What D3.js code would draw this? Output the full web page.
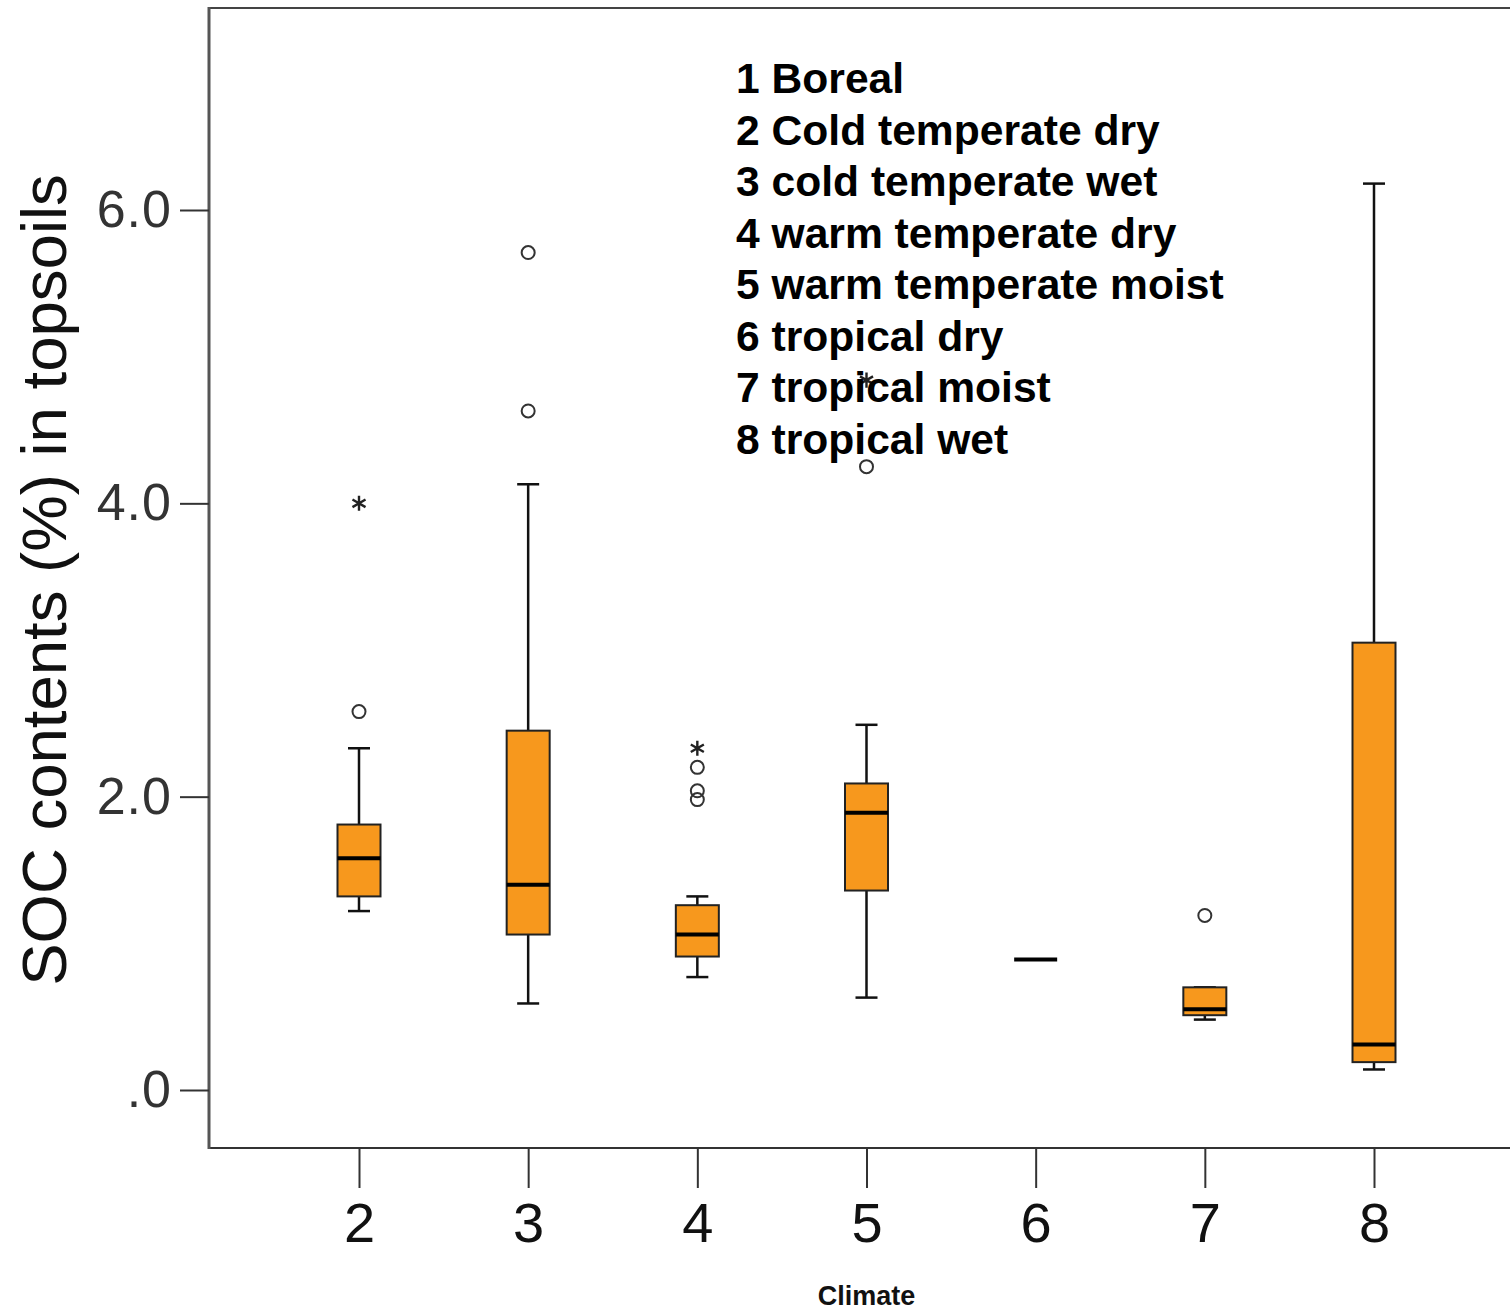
<!DOCTYPE html>
<html>
<head>
<meta charset="utf-8">
<script src="https://cdn.jsdelivr.net/npm/d3@7"></script>
<style>
  body { margin: 0; background: #fff; }
  svg { display: block; font-family: Arial, "Liberation Sans", sans-serif; }
</style>
</head>
<body>
<div id="chart"></div>
<script>
// climate classes on the x axis
const categories = ["2", "3", "4", "5", "6", "7", "8"];

// box plot statistics, one value per category
const lowWhisker  = [1.22, 0.59, 0.77, 0.63, 0.89, 0.48, 0.14];
const q1          = [1.32, 1.06, 0.91, 1.36, 0.89, 0.51, 0.19];
const median      = [1.58, 1.40, 1.06, 1.89, 0.89, 0.55, 0.31];
const q3          = [1.81, 2.45, 1.26, 2.09, 0.89, 0.70, 3.05];
const highWhisker = [2.33, 4.13, 1.32, 2.49, 0.89, 0.70, 6.18];

// outliers (circles) and extremes (stars)
const outlierCats = ["2", "3", "3", "4", "4", "4", "5", "7"];
const outlierVals = [2.58, 5.71, 4.63, 2.20, 2.04, 1.98, 4.25, 1.19];
const extremeCats = ["2", "4", "5"];
const extremeVals = [4.00, 2.33, 4.84];

const yTicks = [0, 2, 4, 6];

const legendLines = [
    "1 Boreal",
    "2 Cold temperate dry",
    "3 cold temperate wet",
    "4 warm temperate dry",
    "5 warm temperate moist",
    "6 tropical dry",
    "7 tropical moist",
    "8 tropical wet"
];

const width = 1510;
const height = 1311;
const plotLeft = 209;
const plotTop = 8;
const plotBottom = 1148;
const boxWidth = 43;
const capWidth = 22;
const orange = "#f7981d";

const boxes = categories.map((c, i) => ({
    cat: c, lo: lowWhisker[i], q1: q1[i], med: median[i], q3: q3[i], hi: highWhisker[i]
}));

const x = d3.scalePoint()
            .domain(categories)
            .range([359, 1374]);

const y = d3.scaleLinear()
            .domain([0, 6])
            .range([1090, 210]);

const svg = d3.select("#chart")
              .append("svg")
              .attr("width", width)
              .attr("height", height);

// frame
svg.append("line")
   .attr("x1", plotLeft).attr("x2", width)
   .attr("y1", plotTop).attr("y2", plotTop)
   .attr("stroke", "#444").attr("stroke-width", 2);
svg.append("line")
   .attr("x1", plotLeft).attr("x2", width)
   .attr("y1", plotBottom).attr("y2", plotBottom)
   .attr("stroke", "#333").attr("stroke-width", 2);
svg.append("line")
   .attr("x1", plotLeft).attr("x2", plotLeft)
   .attr("y1", plotTop - 1).attr("y2", plotBottom + 1)
   .attr("stroke", "#555").attr("stroke-width", 3);

// y axis
const yAxis = d3.axisLeft(y)
                .tickValues(yTicks)
                .tickFormat((d) => d === 0 ? ".0" : d.toFixed(1))
                .tickSize(29)
                .tickPadding(8);

const gy = svg.append("g")
              .attr("transform", "translate(" + plotLeft + ",0)")
              .call(yAxis);
gy.select(".domain").remove();
gy.selectAll(".tick line").attr("stroke", "#333").attr("stroke-width", 2);
gy.selectAll(".tick text")
  .attr("fill", "#333")
  .style("font-size", "52px")
  .style("letter-spacing", "1px")
  .style("font-family", "Arial, 'Liberation Sans', sans-serif");

// x axis
const xAxis = d3.axisBottom(x)
                .tickSize(40)
                .tickPadding(14);

const gx = svg.append("g")
              .attr("transform", "translate(0," + plotBottom + ")")
              .call(xAxis);
gx.select(".domain").remove();
gx.selectAll(".tick line").attr("stroke", "#333").attr("stroke-width", 2);
gx.selectAll(".tick text")
  .attr("fill", "#111")
  .style("font-size", "56px")
  .style("font-family", "Arial, 'Liberation Sans', sans-serif");

// axis titles
svg.append("text")
   .attr("transform", "translate(66," + 580 + ") rotate(-90)")
   .attr("text-anchor", "middle")
   .attr("fill", "#111")
   .style("font-size", "63.5px")
   .text("SOC contents (%) in topsoils");

svg.append("text")
   .attr("x", x("5"))
   .attr("y", 1305)
   .attr("text-anchor", "middle")
   .attr("fill", "#111")
   .style("font-size", "27px")
   .style("font-weight", "bold")
   .text("Climate");

// boxes
const g = svg.selectAll(".box")
             .data(boxes)
             .enter()
             .append("g")
             .attr("class", "box");

g.append("line")
 .attr("x1", (d) => x(d.cat)).attr("x2", (d) => x(d.cat))
 .attr("y1", (d) => y(d.hi)).attr("y2", (d) => y(d.lo))
 .attr("stroke", "#111").attr("stroke-width", 2.5);

g.filter((d) => d.hi !== d.lo)
 .selectAll(".cap")
 .data((d) => [[d.cat, d.hi], [d.cat, d.lo]])
 .enter()
 .append("line")
 .attr("x1", (d) => x(d[0]) - capWidth / 2)
 .attr("x2", (d) => x(d[0]) + capWidth / 2)
 .attr("y1", (d) => y(d[1])).attr("y2", (d) => y(d[1]))
 .attr("stroke", "#111").attr("stroke-width", 2.5);

g.filter((d) => d.q3 !== d.q1)
 .append("rect")
 .attr("x", (d) => x(d.cat) - boxWidth / 2)
 .attr("width", boxWidth)
 .attr("y", (d) => y(d.q3))
 .attr("height", (d) => y(d.q1) - y(d.q3))
 .attr("fill", orange)
 .attr("stroke", "#222")
 .attr("stroke-width", 2);

g.append("line")
 .attr("x1", (d) => x(d.cat) - boxWidth / 2)
 .attr("x2", (d) => x(d.cat) + boxWidth / 2)
 .attr("y1", (d) => y(d.med)).attr("y2", (d) => y(d.med))
 .attr("stroke", "#000").attr("stroke-width", 4);

// outliers
svg.selectAll(".outlier")
   .data(outlierVals)
   .enter()
   .append("circle")
   .attr("class", "outlier")
   .attr("cx", (d, i) => x(outlierCats[i]))
   .attr("cy", (d) => y(d))
   .attr("r", 6.5)
   .attr("fill", "none")
   .attr("stroke", "#333")
   .attr("stroke-width", 2);

// extremes
const star = d3.symbol().type(d3.symbolAsterisk).size(160);
svg.selectAll(".extreme")
   .data(extremeVals)
   .enter()
   .append("path")
   .attr("class", "extreme")
   .attr("d", star)
   .attr("transform", (d, i) => "translate(" + x(extremeCats[i]) + "," + y(d) + ")")
   .attr("fill", "none")
   .attr("stroke", "#222")
   .attr("stroke-width", 2.4);

// legend text
svg.selectAll(".legend")
   .data(legendLines)
   .enter()
   .append("text")
   .attr("class", "legend")
   .attr("x", 736)
   .attr("y", (d, i) => 93 + i * 51.5)
   .attr("fill", "#000")
   .style("font-size", "42.6px")
   .style("font-weight", "bold")
   .text((d) => d);
</script>
</body>
</html>
